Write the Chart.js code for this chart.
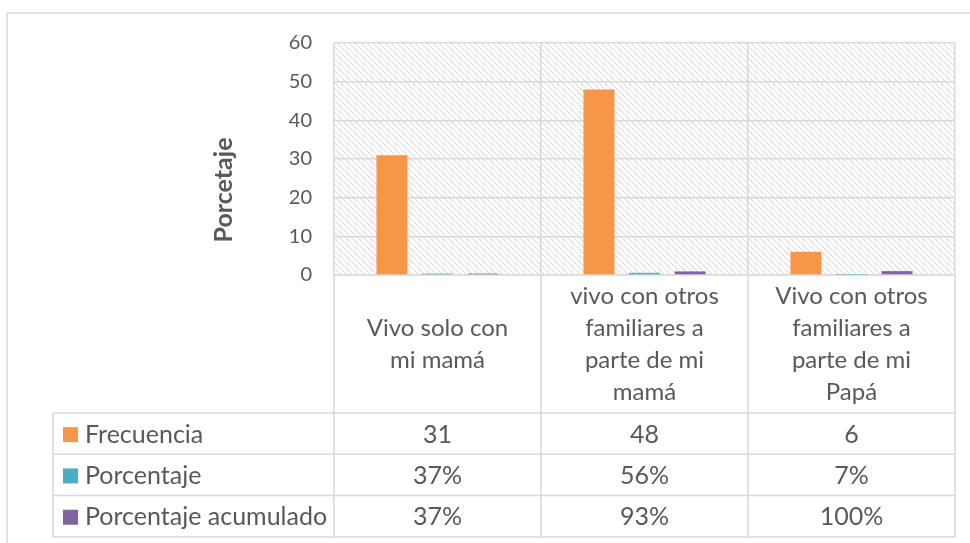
<!DOCTYPE html>
<html>
<head>
<meta charset="utf-8">
<script src="https://cdn.jsdelivr.net/npm/chart.js@4"></script>
<style>
  html, body { margin: 0; padding: 0; background: #fff; }
  #wrap { width: 970px; height: 543px; }
</style>
</head>
<body>
<div id="wrap"><canvas id="myChart" width="970" height="543"></canvas></div>
<script>
const categories = [
  ["Vivo solo con", "mi mamá"],
  ["vivo con otros", "familiares a", "parte de mi", "mamá"],
  ["Vivo con otros", "familiares a", "parte de mi", "Papá"],
];
const frecuencia = [31, 48, 6];
const porcentaje = [0.37, 0.56, 0.07];
const acumulado = [0.37, 0.93, 1.0];
const porcentajeText = ["37%", "56%", "7%"];
const acumuladoText = ["37%", "93%", "100%"];
const yTicks = [0, 10, 20, 30, 40, 50, 60];

const textColor = "#595959";
const lineColor = "#d9d9d9";
const fontFamily = "Lato, 'Open Sans', sans-serif";

// hatch pattern for the plot area
function makeHatch() {
  const c = document.createElement("canvas");
  c.width = 6;
  c.height = 6;
  const g = c.getContext("2d");
  g.strokeStyle = "#d6d6d6";
  g.lineWidth = 1;
  g.beginPath();
  g.moveTo(-1, -1); g.lineTo(7, 7);
  g.moveTo(-1, 5); g.lineTo(1, 7);
  g.moveTo(5, -1); g.lineTo(7, 1);
  g.stroke();
  return g.createPattern(c, "repeat");
}

const backgroundPlugin = {
  id: "background",
  beforeDraw(chart) {
    const { ctx, chartArea } = chart;
    ctx.save();
    // outer frame
    ctx.strokeStyle = lineColor;
    ctx.lineWidth = 1.5;
    ctx.beginPath();
    ctx.moveTo(7, 543);
    ctx.lineTo(7, 13);
    ctx.lineTo(970, 13);
    ctx.stroke();
    ctx.fillStyle = makeHatch();
    ctx.fillRect(chartArea.left, chartArea.top, chartArea.right - chartArea.left, chartArea.bottom - chartArea.top);
    // axis title, sits a bit below the axis middle like in Excel
    ctx.translate(224, 190);
    ctx.rotate(-Math.PI / 2);
    ctx.fillStyle = textColor;
    ctx.font = "bold 25px " + fontFamily;
    ctx.textAlign = "center";
    ctx.textBaseline = "middle";
    ctx.fillText("Porcetaje", 0, 0);
    ctx.restore();
  },
};

// data table under the plot
const tablePlugin = {
  id: "dataTable",
  afterDraw(chart) {
    const { ctx, chartArea } = chart;
    const xs = chart.scales.x;
    const colW = (chartArea.right - chartArea.left) / categories.length;
    const labelBottom = chartArea.bottom + 138;
    const rowH = 41.3;
    const tableLeft = 53;
    const rows = [
      { name: "Frecuencia", color: chart.data.datasets[0].backgroundColor, vals: frecuencia.map(String) },
      { name: "Porcentaje", color: chart.data.datasets[1].backgroundColor, vals: porcentajeText },
      { name: "Porcentaje acumulado", color: chart.data.datasets[2].backgroundColor, vals: acumuladoText },
    ];
    const tableBottom = labelBottom + rowH * rows.length;

    ctx.save();
    ctx.strokeStyle = lineColor;
    ctx.lineWidth = 1.5;
    ctx.beginPath();
    for (let i = 0; i <= categories.length; i++) {
      const x = chartArea.left + colW * i;
      ctx.moveTo(x, chartArea.bottom);
      ctx.lineTo(x, tableBottom);
    }
    ctx.moveTo(tableLeft, labelBottom);
    ctx.lineTo(tableLeft, tableBottom);
    for (let r = 0; r <= rows.length; r++) {
      const y = labelBottom + rowH * r;
      ctx.moveTo(tableLeft, y);
      ctx.lineTo(chartArea.right, y);
    }
    ctx.stroke();

    ctx.fillStyle = textColor;
    ctx.textAlign = "center";
    ctx.textBaseline = "middle";
    ctx.font = "24px " + fontFamily;
    const lineH = 32;
    const bandMid = (chartArea.bottom + labelBottom) / 2;
    categories.forEach((lines, i) => {
      const cx = xs.getPixelForValue(i);
      const y0 = bandMid - (lines.length - 1) * lineH / 2;
      lines.forEach((t, k) => ctx.fillText(t, cx, y0 + k * lineH));
    });

    ctx.font = "25px " + fontFamily;
    rows.forEach((row, r) => {
      const cy = labelBottom + rowH * r + rowH / 2 + 1;
      ctx.fillStyle = row.color;
      ctx.fillRect(63, cy - 7.5, 15, 15);
      ctx.fillStyle = textColor;
      ctx.textAlign = "left";
      ctx.fillText(row.name, 85, cy);
      ctx.textAlign = "center";
      row.vals.forEach((v, i) => ctx.fillText(v, xs.getPixelForValue(i), cy));
    });
    ctx.restore();
  },
};

const ctx = document.getElementById("myChart").getContext("2d");
const myChart = new Chart(ctx, {
  type: "bar",
  data: {
    labels: categories.map((c) => c.join(" ")),
    datasets: [
      { label: "Frecuencia", data: frecuencia, backgroundColor: "#F79646" },
      { label: "Porcentaje", data: porcentaje, backgroundColor: "#4BACC6" },
      { label: "Porcentaje acumulado", data: acumulado, backgroundColor: "#8064A2" },
    ],
  },
  options: {
    responsive: false,
    animation: false,
    devicePixelRatio: 1,
    categoryPercentage: 0.66,
    barPercentage: 0.68,
    layout: {
      padding: { left: 212, top: 43, right: 15, bottom: 0 },
    },
    plugins: {
      legend: { display: false },
      tooltip: { enabled: false },
    },
    scales: {
      x: {
        ticks: { display: false },
        grid: { offset: true, color: lineColor, lineWidth: 1.5, drawTicks: false },
        border: { color: lineColor, width: 1.5 },
        afterFit(s) { s.height = 268; },
      },
      y: {
        min: 0,
        max: 60,
        afterBuildTicks(s) { s.ticks = yTicks.map((v) => ({ value: v })); },
        ticks: {
          color: textColor,
          padding: 22,
          font: { family: fontFamily, size: 20 },
        },
        grid: { color: lineColor, lineWidth: 1.5, drawTicks: false },
        border: { display: false },
        afterFit(s) { s.width = 122; },
      },
    },
  },
  plugins: [backgroundPlugin, tablePlugin],
});
</script>
</body>
</html>
